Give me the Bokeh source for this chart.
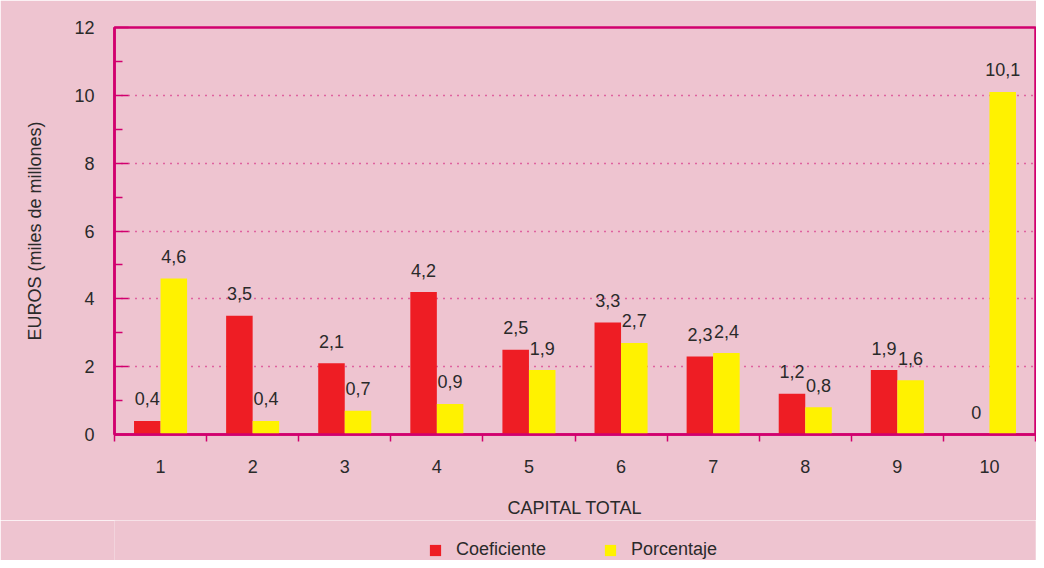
import numpy as np
from bokeh.plotting import figure
from bokeh.layouts import column
from bokeh.models import Range1d, FixedTicker, ColumnDataSource, Legend
from bokeh.transform import dodge
from bokeh.core.properties import value
from bokeh.embed import file_html
from bokeh.resources import INLINE

categories = ["1", "2", "3", "4", "5", "6", "7", "8", "9", "10"]
coeficiente = [0.4, 3.5, 2.1, 4.2, 2.5, 3.3, 2.3, 1.2, 1.9, 0.0]
porcentaje = [4.6, 0.4, 0.7, 0.9, 1.9, 2.7, 2.4, 0.8, 1.6, 10.1]
coef_labels = ["0,4", "3,5", "2,1", "4,2", "2,5", "3,3", "2,3", "1,2", "1,9", "0"]
porc_labels = ["4,6", "0,4", "0,7", "0,9", "1,9", "2,7", "2,4", "0,8", "1,6", "10,1"]
series_names = ["Coeficiente", "Porcentaje"]
y_ticks = [0, 2, 4, 6, 8, 10, 12]
y_minor = [1, 3, 5, 7, 9, 11]

PINK = "#EEC4D0"
MAG = "#D1006E"
RED = "#EE1D24"
YEL = "#FFF200"
TXT = "#2A2A2A"
FONT = "Liberation Sans"

xs = list(range(1, len(categories) + 1))
src = ColumnDataSource(dict(x=xs, coef=coeficiente, porc=porcentaje,
                            cl=coef_labels, pl=porc_labels))

p = figure(width=1036, height=520, output_backend="svg",
           toolbar_location=None,
           x_range=Range1d(0.5, 10.5), y_range=Range1d(0, 12),
           min_border_left=114, min_border_top=27, min_border_right=1,
           min_border_bottom=86)
p.background_fill_color = PINK
p.border_fill_color = PINK
p.outline_line_color = MAG
p.outline_line_width = 2.5

off = 0.144
w = 0.288
p.vbar(x=dodge("x", -off), top="coef", width=w, source=src,
       fill_color=RED, line_color=None)
p.vbar(x=dodge("x", off), top="porc", width=w, source=src,
       fill_color=YEL, line_color=None)

p.text(x=dodge("x", -off), y="coef", text="cl", source=src,
       text_font=value(FONT), text_font_size="18px", text_color=TXT,
       text_align="center", text_baseline="alphabetic", y_offset=-22)
p.text(x=dodge("x", off), y="porc", text="pl", source=src,
       text_font=value(FONT), text_font_size="18px", text_color=TXT,
       text_align="center", text_baseline="alphabetic", y_offset=-22)

# x axis
xa = p.xaxis[0]
xa.ticker = FixedTicker(ticks=xs, minor_ticks=[v + 0.5 for v in [0] + xs])
xa.major_label_overrides = {x: c for x, c in zip(xs, categories)}
xa.major_tick_in = 0
xa.major_tick_out = 0
xa.minor_tick_in = 0
xa.minor_tick_out = 7
xa.minor_tick_line_color = MAG
xa.minor_tick_line_width = 1.5
xa.axis_line_color = MAG
xa.axis_line_width = 2.5
xa.major_label_standoff = 18
xa.major_label_text_font = FONT
xa.major_label_text_font_size = "18px"
xa.major_label_text_color = TXT
xa.axis_label = "CAPITAL TOTAL"
xa.axis_label_text_font = FONT
xa.axis_label_text_font_size = "18px"
xa.axis_label_text_font_style = "normal"
xa.axis_label_text_color = TXT
xa.axis_label_standoff = 22

# y axis
ya = p.yaxis[0]
ya.ticker = FixedTicker(ticks=y_ticks, minor_ticks=y_minor)
ya.major_tick_in = 14
ya.major_tick_out = 0
ya.minor_tick_in = 8
ya.minor_tick_out = 0
ya.major_tick_line_color = MAG
ya.major_tick_line_width = 1.5
ya.minor_tick_line_color = MAG
ya.minor_tick_line_width = 1.5
ya.axis_line_color = MAG
ya.axis_line_width = 2.5
ya.major_label_standoff = 20
ya.major_label_text_font = FONT
ya.major_label_text_font_size = "18px"
ya.major_label_text_color = TXT
ya.axis_label = "EUROS (miles de millones)"
ya.axis_label_text_font = FONT
ya.axis_label_text_font_size = "18px"
ya.axis_label_text_font_style = "normal"
ya.axis_label_text_color = TXT
ya.axis_label_standoff = 26

p.xgrid.grid_line_color = None
p.ygrid.grid_line_color = MAG
p.ygrid.grid_line_dash = "1 6"
p.ygrid.grid_line_width = 1.5

# legend strip below the chart (its frame is aligned with the chart's frame)
pl = figure(width=1036, height=40, output_backend="svg", toolbar_location=None,
            x_axis_type=None, y_axis_type=None,
            x_range=Range1d(0, 1), y_range=Range1d(0, 1),
            min_border_left=0, min_border_right=0, min_border_top=0,
            min_border_bottom=0)
pl.background_fill_color = PINK
pl.border_fill_color = PINK
pl.outline_line_color = None
lr1 = pl.vbar(x=[-5], top=[0], width=0.001, fill_color=RED, line_color=None)
lr2 = pl.vbar(x=[-5], top=[0], width=0.001, fill_color=YEL, line_color=None)
legend = Legend(items=[(series_names[0], [lr1]), (series_names[1], [lr2])],
                orientation="horizontal", location=(314, 0),
                glyph_width=14, glyph_height=14, label_standoff=14,
                spacing=57, label_text_font=FONT, label_text_font_size="18px",
                label_text_color=TXT, background_fill_alpha=0,
                border_line_alpha=0, margin=0, padding=0)
pl.add_layout(legend, "center")

open("out.html", "w").write(file_html(column(p, pl, spacing=0), INLINE))
